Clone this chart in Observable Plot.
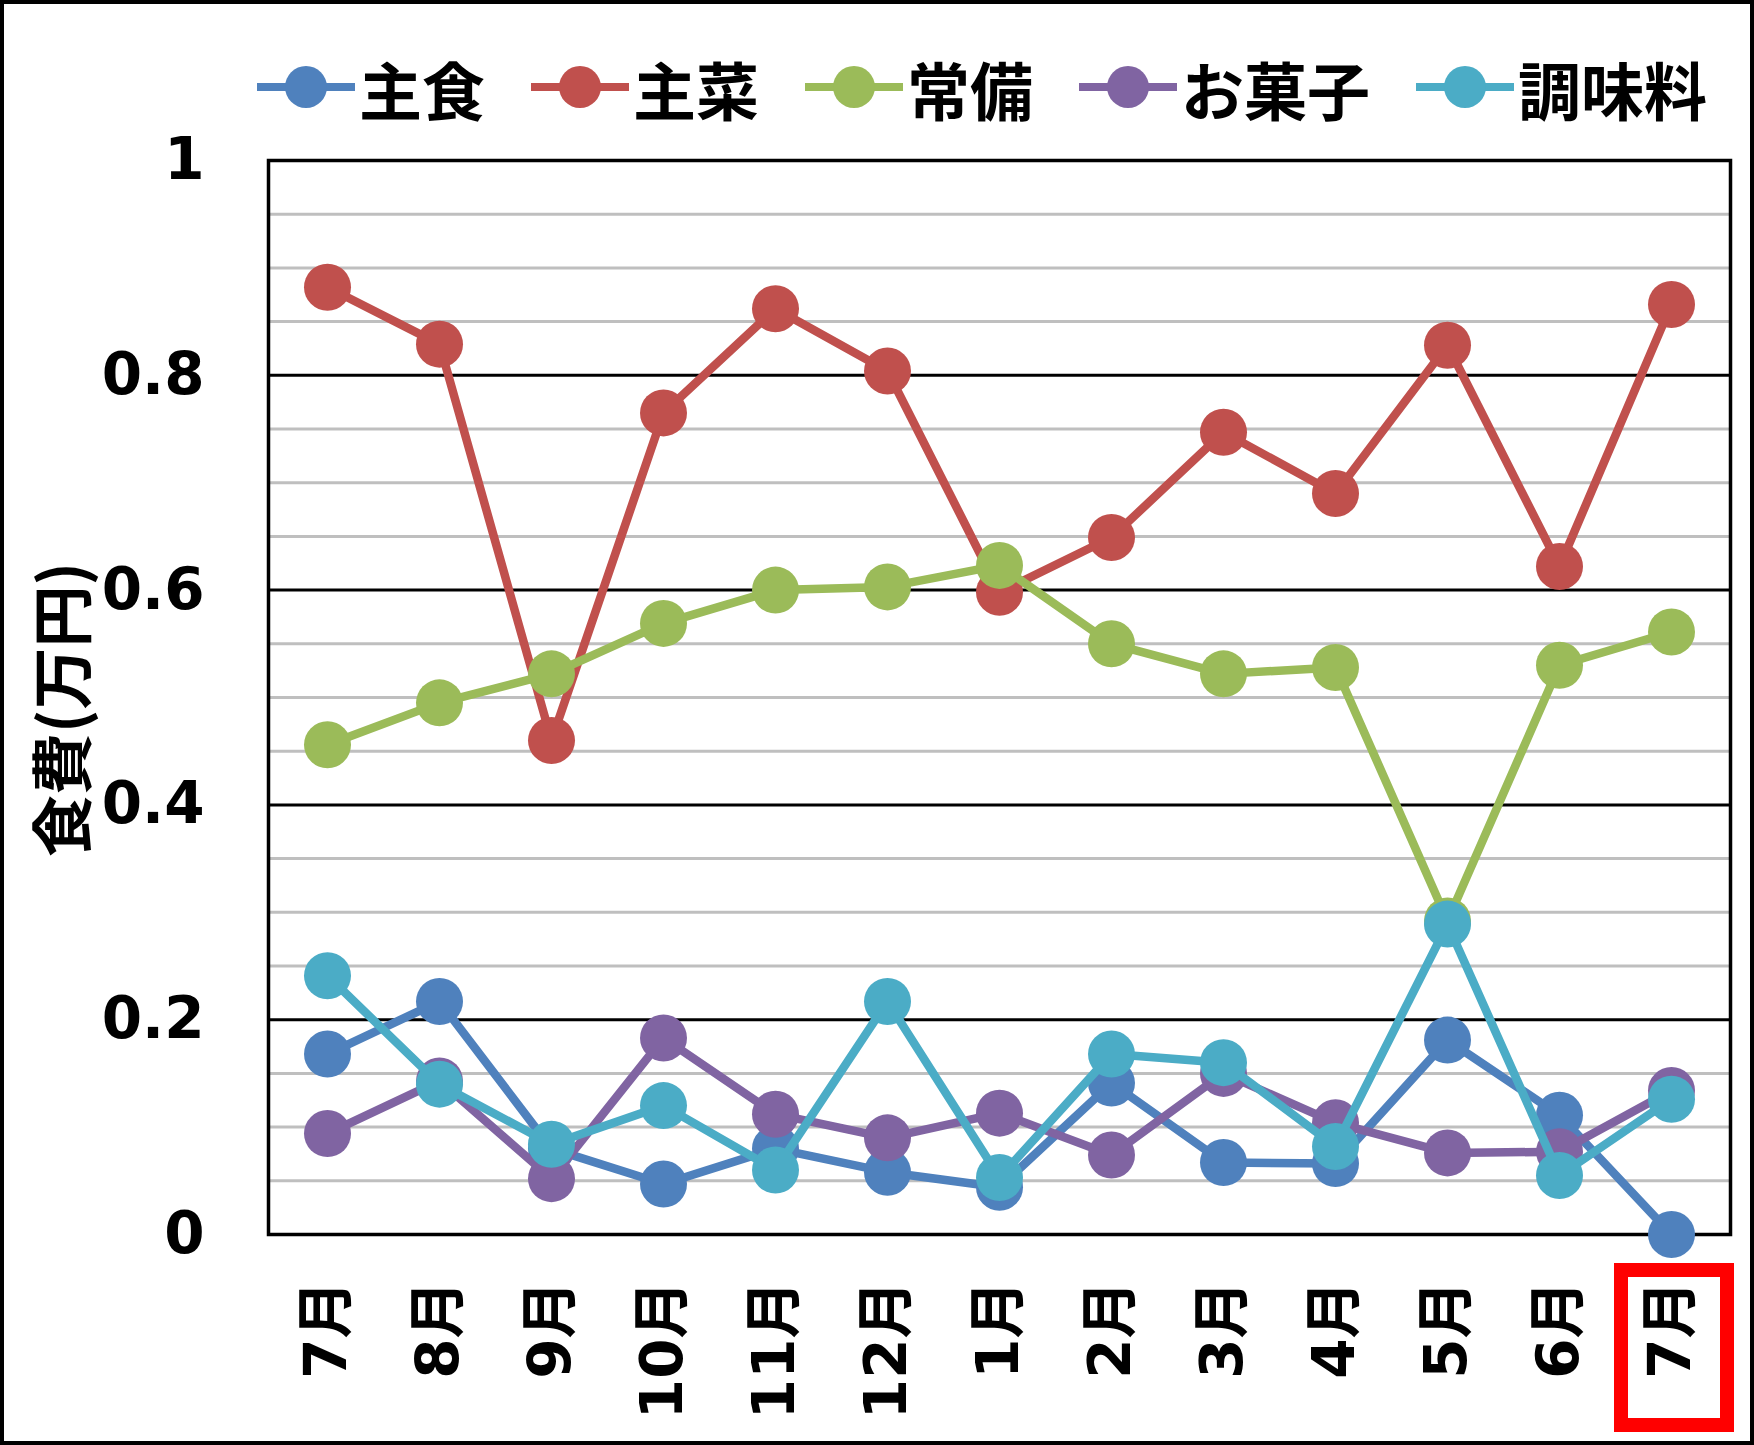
<!DOCTYPE html>
<html><head><meta charset="utf-8">
<script src="https://cdn.jsdelivr.net/npm/d3@7"></script>
<script src="https://cdn.jsdelivr.net/npm/@observablehq/plot@0.6"></script>
<style>
body{margin:0;background:#fff;}
#wrap{position:relative;width:1754px;height:1445px;overflow:hidden;background:#fff;}
#border{position:absolute;left:0;top:0;width:1754px;height:1445px;box-sizing:border-box;border:4px solid #000;pointer-events:none;}
#legend{position:absolute;left:257px;top:50px;height:74px;display:flex;align-items:center;gap:46px;}
.item{display:flex;align-items:center;gap:4px;font-family:"Noto Sans CJK JP";font-weight:700;font-size:63px;line-height:1;color:#000;}
#chart{position:absolute;left:0;top:120px;}
#hl{position:absolute;border:14px solid #f00;box-sizing:border-box;}
</style></head>
<body><div id="wrap"><div id="legend"></div><div id="chart"></div><div id="hl"></div><div id="border"></div></div>
<script>
const months = ["7月","8月","9月","10月","11月","12月","1月","2月","3月","4月","5月","6月","7月"];
const seriesNames = ["主食","主菜","常備","お菓子","調味料"];
const seriesColors = ["#4F81BD","#C0504D","#9BBB59","#8064A2","#4BACC6"];
const shushoku = [0.168,0.217,0.080,0.047,0.080,0.058,0.044,0.141,0.067,0.066,0.181,0.111,0.000];
const shusai   = [0.882,0.829,0.460,0.765,0.862,0.804,0.598,0.649,0.747,0.690,0.828,0.622,0.866];
const jobi     = [0.456,0.495,0.522,0.569,0.600,0.603,0.623,0.550,0.522,0.528,0.292,0.530,0.561];
const okashi   = [0.094,0.143,0.052,0.183,0.112,0.090,0.113,0.074,0.150,0.104,0.076,0.077,0.134];
const chomiryo = [0.241,0.140,0.084,0.120,0.060,0.217,0.053,0.168,0.160,0.082,0.289,0.055,0.126];
const yTicks = [0,0.2,0.4,0.6,0.8,1];
const yMajorGrid = [0.2,0.4,0.6,0.8];
const yMinorGrid = [0.05,0.1,0.15,0.25,0.3,0.35,0.45,0.5,0.55,0.65,0.7,0.75,0.85,0.9,0.95];
const yLabel = "食費(万円)";

const seriesValues = [shushoku, shusai, jobi, okashi, chomiryo];
const idx = months.map((_, i) => i);

// legend
const legend = document.getElementById("legend");
seriesNames.forEach((name, k) => {
  const item = document.createElement("div");
  item.className = "item";
  item.innerHTML = `<svg width="98" height="46"><line x1="0" x2="98" y1="23" y2="23" stroke="${seriesColors[k]}" stroke-width="8"/><circle cx="49" cy="23" r="21" fill="${seriesColors[k]}"/></svg><span>${name}</span>`;
  legend.appendChild(item);
});

const marks = [
  Plot.ruleY(yMinorGrid, {stroke: "#BFBFBF", strokeWidth: 3}),
  Plot.ruleY(yMajorGrid, {stroke: "#000", strokeWidth: 3}),
  Plot.frame({stroke: "#000", strokeWidth: 3.5}),
  Plot.axisY({ticks: yTicks, tickSize: 0, tickPadding: 64, label: null, fontSize: 58, fontWeight: "bold", tickFormat: d => String(d)}),
  Plot.axisX({ticks: idx, tickSize: 0, tickPadding: 46, tickRotate: -90, label: null, fontSize: 58, fontWeight: "bold", tickFormat: i => months[i]}),
  Plot.text([yLabel], {frameAnchor: "left", textAnchor: "middle", dx: -202, dy: 12, rotate: -90, fontSize: 62, fontWeight: "bold", fontFamily: "Noto Sans CJK JP", fill: "#000"})
];
seriesValues.forEach((vals, k) => {
  const data = vals.map((v, i) => ({i, v}));
  marks.push(Plot.line(data, {x: "i", y: "v", stroke: seriesColors[k], strokeWidth: 8.5}));
  marks.push(Plot.dot(data, {x: "i", y: "v", r: 23.5, fill: seriesColors[k]}));
});

const plot = Plot.plot({
  width: 1754,
  height: 1325,
  marginLeft: 268,
  marginRight: 24,
  marginTop: 40,
  marginBottom: 211,
  style: {fontFamily: "'DejaVu Sans', 'Noto Sans CJK JP', sans-serif", color: "#000", background: "transparent", overflow: "visible"},
  x: {type: "point", domain: idx, padding: 0.5, axis: null},
  y: {domain: [0, 1], axis: null},
  marks
});
document.getElementById("chart").appendChild(plot);

const hx = plot.scale("x").apply(months.length - 1);
const hl = document.getElementById("hl");
hl.style.left = (hx - 57) + "px";
hl.style.width = "120px";
hl.style.top = "1263px";
hl.style.height = "169px";
</script>
</body></html>
